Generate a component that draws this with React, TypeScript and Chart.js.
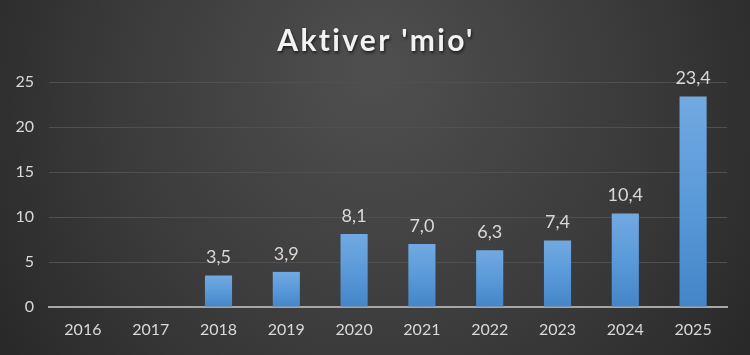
import React, { useEffect, useRef } from "react";
import { Chart, registerables } from "chart.js";

Chart.register(...registerables);

const categories = ["2016", "2017", "2018", "2019", "2020", "2021", "2022", "2023", "2024", "2025"];
const values: (number | null)[] = [0, 0, 3.5, 3.9, 8.1, 7.0, 6.3, 7.4, 10.4, 23.4];
const yTicks = [0, 5, 10, 15, 20, 25];
const titleText = "Aktiver 'mio'";

const FONT = "Lato, 'Open Sans', sans-serif";

const bgPlugin = {
  id: "bgPlugin",
  beforeDraw(chart: any) {
    const { ctx, width, height } = chart;
    ctx.save();
    const g = ctx.createRadialGradient(width / 2, height * 0.2, 20, width / 2, height * 0.35, width * 0.62);
    g.addColorStop(0, "#4e4e4e");
    g.addColorStop(0.55, "#3a3a3a");
    g.addColorStop(1, "#262626");
    ctx.fillStyle = g;
    ctx.fillRect(0, 0, width, height);
    ctx.restore();
  },
  afterDraw(chart: any) {
    const { ctx, width } = chart;
    ctx.save();
    ctx.font = `bold 30px ${FONT}`;
    ctx.textAlign = "center";
    ctx.textBaseline = "middle";
    ctx.shadowColor = "rgba(0,0,0,0.6)";
    ctx.shadowBlur = 3;
    ctx.shadowOffsetX = 1;
    ctx.shadowOffsetY = 2;
    ctx.fillStyle = "#f2f2f2";
    (ctx as any).letterSpacing = "2.3px";
    ctx.fillText(titleText, width / 2 + 1, 41);
    ctx.restore();
  },
};

const labelPlugin = {
  id: "labelPlugin",
  afterDatasetsDraw(chart: any) {
    const { ctx } = chart;
    const meta = chart.getDatasetMeta(0);
    ctx.save();
    ctx.font = `18px ${FONT}`;
    ctx.fillStyle = "#d9d9d9";
    ctx.textAlign = "center";
    ctx.textBaseline = "bottom";
    meta.data.forEach((bar: any, i: number) => {
      const v = values[i];
      if (v === null || v === 0) return;
      ctx.fillText(v.toFixed(1).replace(".", ","), bar.x, bar.y - 9);
    });
    ctx.restore();
  },
};

export default function App() {
  const ref = useRef<HTMLCanvasElement>(null);
  useEffect(() => {
    document.body.style.margin = "0";
    const canvas = ref.current!;
    const chart = new Chart(canvas, {
      type: "bar",
      data: {
        labels: categories,
        datasets: [
          {
            data: values,
            barPercentage: 0.4,
            categoryPercentage: 1,
            backgroundColor: (c: any) => {
              const ch = c.chart;
              const ys = ch.scales?.y;
              if (!ys || c.parsed == null) return "#5b9bd5";
              const top = ys.getPixelForValue(c.parsed.y);
              const bottom = ys.getPixelForValue(0);
              if (!isFinite(top) || bottom - top < 1) return "#5b9bd5";
              const g = ch.ctx.createLinearGradient(0, top, 0, bottom);
              g.addColorStop(0, "#72a9e1");
              g.addColorStop(0.5, "#5a9ad9");
              g.addColorStop(1, "#4485c8");
              return g;
            },
            borderWidth: 0,
          },
        ],
      },
      options: {
        animation: false,
        responsive: false,
        devicePixelRatio: 1,
        layout: { padding: { top: 82, right: 23, left: 0, bottom: 0 } },
        plugins: { legend: { display: false }, tooltip: { enabled: false }, title: { display: false } },
        scales: {
          x: {
            grid: { display: false, drawTicks: false },
            border: { display: true, color: "#a6a6a6", width: 2 },
            ticks: { color: "#d9d9d9", font: { family: FONT, size: 16 }, padding: 13 },
            afterFit: (s: any) => {
              s.height = 48;
            },
          },
          y: {
            min: 0,
            max: 25,
            afterBuildTicks: (s: any) => {
              s.ticks = yTicks.map((v) => ({ value: v }));
            },
            grid: { color: "#505050", lineWidth: 1, drawTicks: false },
            border: { display: false },
            ticks: { color: "#d9d9d9", font: { family: FONT, size: 16 }, padding: 15 },
            afterFit: (s: any) => {
              s.width = 49;
            },
          },
        },
      },
      plugins: [bgPlugin, labelPlugin],
    });
    return () => chart.destroy();
  }, []);
  return <canvas ref={ref} width={750} height={355} style={{ display: "block" }} />;
}
